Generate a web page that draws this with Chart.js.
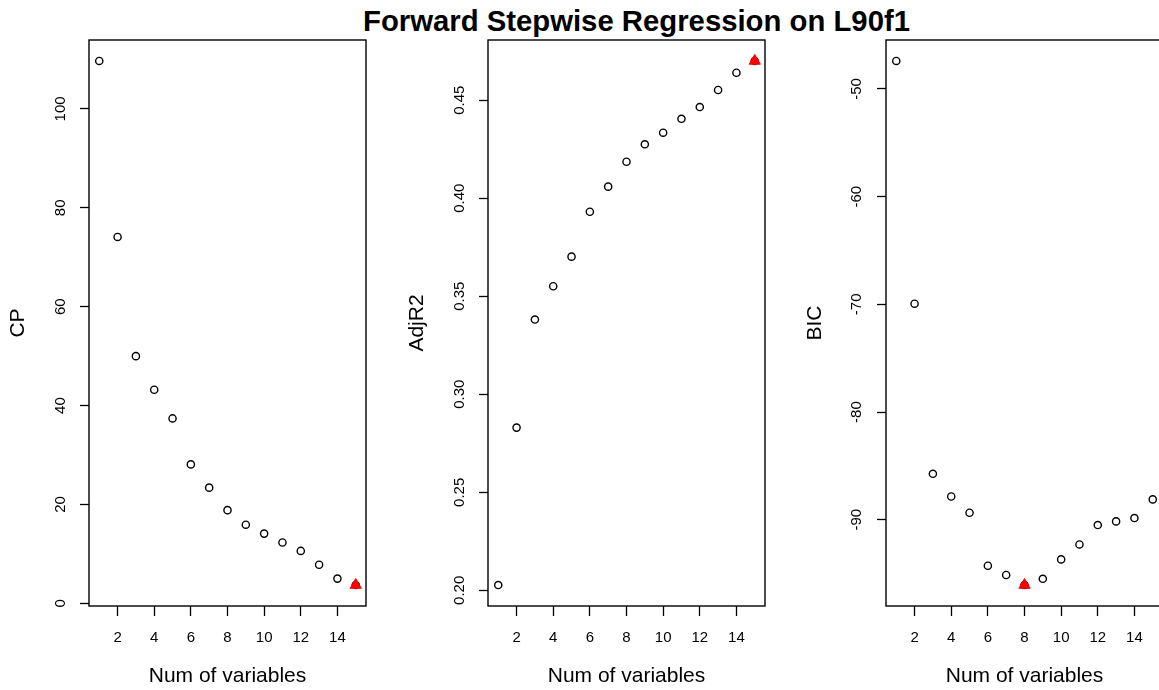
<!DOCTYPE html>
<html>
<head>
<meta charset="utf-8">
<script src="https://cdn.jsdelivr.net/npm/chart.js@4/dist/chart.umd.min.js"></script>
<style>
  html, body { margin: 0; padding: 0; background: #fff; overflow: hidden; }
  body { width: 1159px; height: 690px; position: relative; }
  .panel { position: absolute; top: 0; width: 399px; height: 690px; }
  #title {
    position: absolute; left: 0; top: 6px; width: 1273px; text-align: center;
    font: bold 29.3px "Liberation Sans", Arial, sans-serif; line-height: 29px; color: #000;
  }
</style>
</head>
<body>
<div id="title">Forward Stepwise Regression on L90f1</div>
<div class="panel" style="left:0px"><canvas id="cpChart"></canvas></div>
<div class="panel" style="left:399px"><canvas id="adjr2Chart"></canvas></div>
<div class="panel" style="left:797px"><canvas id="bicChart"></canvas></div>
<script>
// number of variables in the model
const nVars = [1, 2, 3, 4, 5, 6, 7, 8, 9, 10, 11, 12, 13, 14, 15];

// values
const cpValues = [109.7, 74.1, 50.0, 43.2, 37.4, 28.1, 23.4, 18.85, 15.9, 14.1, 12.3, 10.6, 7.8, 5.0, 3.7];
const adjr2Values = [0.2027, 0.2830, 0.3381, 0.3551, 0.3702, 0.3931, 0.4059, 0.4186, 0.4275, 0.4334, 0.4405, 0.4465, 0.4552, 0.4640, 0.4700];
const bicValues = [-47.4, -69.94, -85.73, -87.84, -89.35, -94.27, -95.13, -96.06, -95.48, -93.68, -92.29, -90.49, -90.15, -89.84, -88.11];

// tick labels
const xTicks = [2, 4, 6, 8, 10, 12, 14];
const cpTicks = [0, 20, 40, 60, 80, 100];
const adjr2Ticks = [0.20, 0.25, 0.30, 0.35, 0.40, 0.45];
const adjr2TickLabels = ['0.20', '0.25', '0.30', '0.35', '0.40', '0.45'];
const bicTicks = [-90, -80, -70, -60, -50];

const FONT = '"Liberation Sans", Arial, sans-serif';

// R style range: data range plus 4% on both sides
function rRange(vals) {
    const lo = Math.min(...vals), hi = Math.max(...vals);
    const pad = (hi - lo) * 0.04;
    return [lo - pad, hi + pad];
}

const boxPlugin = {
    id: 'box',
    afterDatasetsDraw(chart) {
        const {ctx, chartArea: a} = chart;
        ctx.save();
        ctx.strokeStyle = '#000';
        ctx.lineWidth = 1.4;
        ctx.strokeRect(a.left, a.top, a.right - a.left, a.bottom - a.top);
        ctx.restore();
    }
};

function makeChart(id, values, bestIdx, yTitle, yTicks, yLabels, yPad) {
    const xr = rRange(nVars), yr = rRange(values);
    const pts = nVars.map((n, i) => ({x: n, y: values[i]}));
    const best = [{x: nVars[bestIdx], y: values[bestIdx]}];
    return new Chart(document.getElementById(id).getContext('2d'), {
        type: 'scatter',
        data: {
            datasets: [
                {
                    data: best,
                    pointStyle: 'triangle',
                    pointRadius: 6.5,
                    backgroundColor: '#ff0000',
                    borderColor: '#ff0000',
                    borderWidth: 1
                },
                {
                    data: pts,
                    pointStyle: 'circle',
                    pointRadius: 3.6,
                    backgroundColor: 'rgba(0,0,0,0)',
                    borderColor: '#000',
                    borderWidth: 1.4
                }
            ]
        },
        options: {
            responsive: true,
            maintainAspectRatio: false,
            animation: false,
            events: [],
            layout: { padding: { left: 0, right: 33, top: 40, bottom: 0 } },
            plugins: { legend: { display: false }, tooltip: { enabled: false } },
            scales: {
                x: {
                    type: 'linear',
                    min: xr[0], max: xr[1],
                    afterBuildTicks: s => { s.ticks = xTicks.map(v => ({value: v})); },
                    afterFit: s => { s.height = 84; },
                    border: { display: false },
                    grid: { drawOnChartArea: false, drawTicks: true, tickLength: 10, tickColor: '#000', tickWidth: 1.3 },
                    ticks: {
                        autoSkip: false, maxRotation: 0, padding: 13, color: '#000',
                        font: { family: FONT, size: 15 },
                        callback: v => String(v)
                    },
                    title: {
                        display: true, text: 'Num of variables', color: '#000',
                        font: { family: FONT, size: 21 }, padding: { top: 0, bottom: 1 }
                    }
                },
                y: {
                    type: 'linear',
                    min: yr[0], max: yr[1],
                    afterBuildTicks: s => { s.ticks = yTicks.map(v => ({value: v})); },
                    afterFit: s => { s.width = 89; },
                    border: { display: false },
                    grid: { drawOnChartArea: false, drawTicks: true, tickLength: 9, tickColor: '#000', tickWidth: 1.3 },
                    ticks: {
                        autoSkip: false, minRotation: 90, maxRotation: 90, crossAlign: 'center',
                        padding: yPad, color: '#000',
                        font: { family: FONT, size: 15 },
                        callback: (v, i) => yLabels[i]
                    },
                    title: {
                        display: true, text: yTitle, color: '#000',
                        font: { family: FONT, size: 21 }, padding: { top: 6, bottom: 0 }
                    }
                }
            }
        },
        plugins: [boxPlugin]
    });
}

const cpBest = cpValues.indexOf(Math.min(...cpValues));
const adjr2Best = adjr2Values.indexOf(Math.max(...adjr2Values));
const bicBest = bicValues.indexOf(Math.min(...bicValues));

makeChart('cpChart', cpValues, cpBest, 'CP', cpTicks, cpTicks.map(String), 7);
makeChart('adjr2Chart', adjr2Values, adjr2Best, 'AdjR2', adjr2Ticks, adjr2TickLabels, 5);
makeChart('bicChart', bicValues, bicBest, 'BIC', bicTicks, bicTicks.map(String), 9);
</script>
</body>
</html>
